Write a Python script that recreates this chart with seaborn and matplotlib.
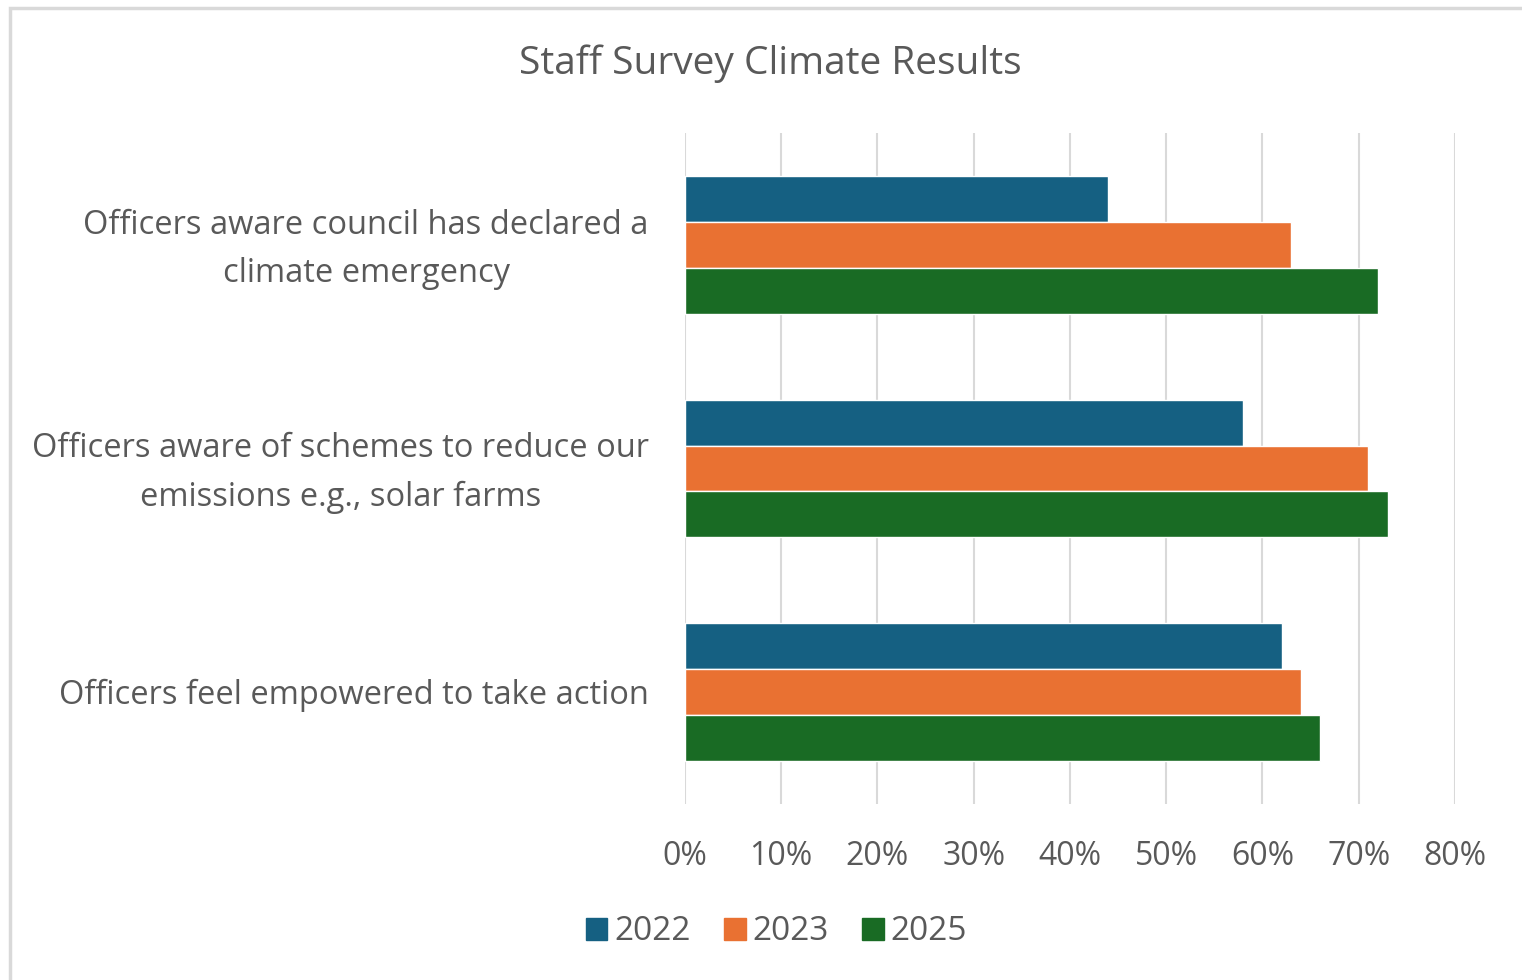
import matplotlib
matplotlib.use("Agg")
import matplotlib.pyplot as plt
import matplotlib.transforms as mtransforms
from matplotlib.patches import Rectangle
from matplotlib.ticker import PercentFormatter
import seaborn as sns
import pandas as pd

# Data
questions = [
    "Officers aware council has declared a\nclimate emergency",
    "Officers aware of schemes to reduce our\nemissions e.g., solar farms",
    "Officers feel empowered to take action",
]
years = ["2022", "2023", "2025"]
vals_2022 = [44, 58, 62]
vals_2023 = [63, 71, 64]
vals_2025 = [72, 73, 66]
colors = ["#156082", "#E97132", "#196B24"]

rows = []
for yr, vals in zip(years, [vals_2022, vals_2023, vals_2025]):
    for q, v in zip(questions, vals):
        rows.append({"Question": q, "Year": yr, "Value": v})
df = pd.DataFrame(rows)

sns.set_style("white")
plt.rcParams["font.family"] = ["Open Sans", "DejaVu Sans"]
text_col = "#595959"

fig = plt.figure(figsize=(15.22, 9.8), dpi=100)
ax = fig.add_axes([0.450, 0.180, 0.506, 0.684])

sns.barplot(data=df, y="Question", x="Value", hue="Year", order=questions,
            hue_order=years, palette=colors, orient="h", width=0.616,
            saturation=1, gap=0, ax=ax, legend=True)

ax.set_xlim(0, 80)
ax.set_xticks(range(0, 81, 10))
ax.xaxis.set_major_formatter(PercentFormatter(decimals=0))
ax.grid(axis="x", color="#d9d9d9", linewidth=1.5)
ax.set_axisbelow(True)
for s in ax.spines.values():
    s.set_visible(False)
ax.set_xlabel("")
ax.set_ylabel("")
ax.tick_params(axis="x", labelsize=23, colors=text_col, length=0, pad=26)
ax.tick_params(axis="y", labelsize=23.5, colors=text_col, length=0, pad=26)

# wrapped labels: centred lines, nudged up a little like the original
shift = mtransforms.ScaledTranslation(0, 7 / 100, fig.dpi_scale_trans)
for lab in ax.get_yticklabels():
    lab.set_multialignment("center")
    lab.set_linespacing(1.6)
    if "\n" in lab.get_text():
        lab.set_transform(lab.get_transform() + shift)

ax.get_legend().remove()
handles = [Rectangle((0, 0), 1, 1, color=c) for c in colors]
fig.legend(handles, years, loc="center", bbox_to_anchor=(0.51, 0.049), ncol=3,
           frameon=False, fontsize=24, labelcolor=text_col, handlelength=0.65,
           handleheight=0.65, handletextpad=0.2, columnspacing=1.0)

fig.suptitle("Staff Survey Climate Results", x=0.506, y=0.955, fontsize=28,
             color=text_col)

# light frame of the chart area (cropped at right/bottom)
frame = Rectangle((10 / 1522, -0.05), 1.1, 1 - 8 / 980 + 0.05,
                  transform=fig.transFigure, fill=False, edgecolor="#d9d9d9",
                  linewidth=2.5)
fig.patches.append(frame)

fig.savefig("out.png", dpi=100)
